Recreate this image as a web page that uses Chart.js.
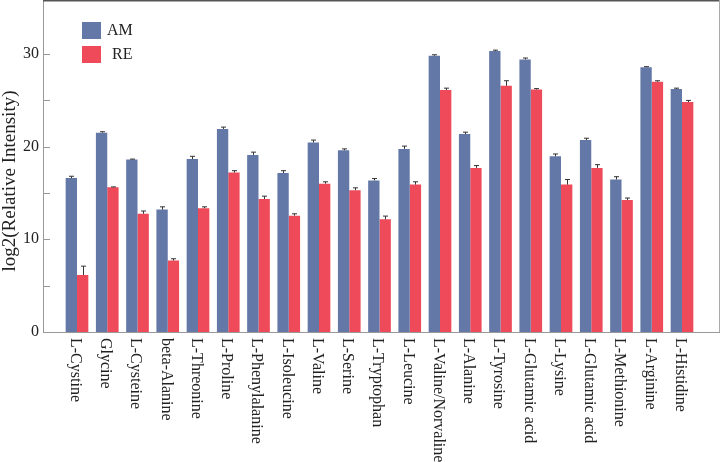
<!DOCTYPE html>
<html>
<head>
<meta charset="utf-8">
<script src="https://cdn.jsdelivr.net/npm/chart.js@4.4.1/dist/chart.umd.min.js"></script>
<style>
  html, body { margin: 0; padding: 0; background: #fff; }
  #wrap { width: 720px; height: 462px; position: relative; }
</style>
</head>
<body>
<div id="wrap"><canvas id="chart"></canvas></div>
<script>
// Categories and values (log2 relative intensity)
const labels = ['L-Cystine', 'Glycine', 'L-Cysteine', 'beta-Alanine', 'L-Threonine', 'L-Proline',
    'L-Phenylalanine', 'L-Isoleucine', 'L-Valine', 'L-Serine', 'L-Tryptophan', 'L-Leucine',
    'L-Valine/Norvaline', 'L-Alanine', 'L-Tyrosine', 'L-Glutamic acid', 'L-Lysine',
    'L-Glutamic acid', 'L-Methionine', 'L-Arginine', 'L-Histidine'];
const amValues = [16.6, 21.5, 18.6, 13.2, 18.65, 21.9, 19.1, 17.15, 20.45, 19.6, 16.35, 19.75,
    29.8, 21.35, 30.3, 29.4, 18.95, 20.7, 16.45, 28.55, 26.2];
const amErrors = [0.2, 0.1, 0.05, 0.3, 0.3, 0.2, 0.3, 0.25, 0.25, 0.15, 0.2, 0.3,
    0.1, 0.2, 0.1, 0.15, 0.25, 0.2, 0.3, 0.07, 0.1];
const reValues = [6.15, 15.6, 12.75, 7.7, 13.35, 17.2, 14.35, 12.55, 16.0, 15.3, 12.15, 15.9,
    26.1, 17.7, 26.55, 26.15, 15.9, 17.7, 14.25, 27.0, 24.8];
const reErrors = [0.95, 0.05, 0.3, 0.2, 0.15, 0.2, 0.3, 0.2, 0.2, 0.25, 0.35, 0.3,
    0.2, 0.25, 0.55, 0.1, 0.55, 0.35, 0.2, 0.1, 0.18];
const yTickValues = [0, 5, 10, 15, 20, 25, 30];
const yTitle = 'log2(Relative Intensity)';

const FONT = "'Liberation Serif', 'Times New Roman', serif";
const AM_COLOR = '#6478a8';
const RE_COLOR = '#ee4a5a';

// Error bars (upper whisker + cap) drawn through the y scale
const errorBars = {
    id: 'errorBars',
    afterDatasetsDraw(chart) {
        const ctx = chart.ctx;
        const yScale = chart.scales.y;
        ctx.save();
        ctx.strokeStyle = '#333';
        ctx.lineWidth = 1;
        chart.data.datasets.forEach((ds, di) => {
            const meta = chart.getDatasetMeta(di);
            meta.data.forEach((bar, i) => {
                const top = yScale.getPixelForValue(ds.data[i].y + ds.errors[i]);
                const x = Math.round(bar.x) + 0.5;
                ctx.beginPath();
                ctx.moveTo(x, bar.y);
                ctx.lineTo(x, top);
                ctx.moveTo(x - 2.5, top);
                ctx.lineTo(x + 2.5, top);
                ctx.stroke();
            });
        });
        ctx.restore();
    }
};

// Frame, inward y ticks, rotated x labels, y title and legend
const decorations = {
    id: 'decorations',
    afterDraw(chart) {
        const ctx = chart.ctx;
        const area = chart.chartArea;
        const xScale = chart.scales.x;
        const yScale = chart.scales.y;
        ctx.save();

        // top and right frame
        ctx.strokeStyle = '#555';
        ctx.lineWidth = 2;
        ctx.beginPath();
        ctx.moveTo(area.left, 0.5);
        ctx.lineTo(area.right + 1, 0.5);
        ctx.stroke();
        ctx.strokeStyle = '#aaa';
        ctx.lineWidth = 1;
        ctx.beginPath();
        ctx.moveTo(area.right + 0.5, 0);
        ctx.lineTo(area.right + 0.5, area.bottom);
        ctx.stroke();

        // y ticks pointing into the plot
        ctx.strokeStyle = '#999';
        yTickValues.forEach(v => {
            const y = Math.round(yScale.getPixelForValue(v)) + 0.5;
            ctx.beginPath();
            ctx.moveTo(area.left, y);
            ctx.lineTo(area.left + 7, y);
            ctx.stroke();
        });

        // x labels, reading top to bottom
        ctx.fillStyle = '#222';
        ctx.font = '16px ' + FONT;
        ctx.textAlign = 'left';
        ctx.textBaseline = 'middle';
        labels.forEach((lab, i) => {
            const x = xScale.getPixelForValue(i);
            ctx.save();
            ctx.translate(x - 2, area.bottom + 6);
            ctx.rotate(Math.PI / 2);
            ctx.fillText(lab, 0, 0);
            ctx.restore();
        });

        // y title
        ctx.save();
        ctx.font = '19px ' + FONT;
        ctx.textAlign = 'center';
        ctx.translate(10, 181);
        ctx.rotate(-Math.PI / 2);
        ctx.fillText(yTitle, 0, 0);
        ctx.restore();

        // legend
        ctx.font = '16px ' + FONT;
        ctx.textBaseline = 'middle';
        chart.data.datasets.forEach((ds, i) => {
            const top = 22 + i * 24;
            ctx.fillStyle = ds.backgroundColor;
            ctx.fillRect(82, top, 19, 17);
            ctx.fillStyle = '#222';
            ctx.fillText(ds.label, 107 + i * 5, top + 9);
        });
        ctx.restore();
    }
};

const ctx = document.getElementById('chart').getContext('2d');
new Chart(ctx, {
    type: 'bar',
    data: {
        datasets: [
            {
                label: 'AM',
                data: amValues.map((v, i) => ({ x: i, y: v })),
                errors: amErrors,
                backgroundColor: AM_COLOR,
                borderWidth: 0
            },
            {
                label: 'RE',
                data: reValues.map((v, i) => ({ x: i, y: v })),
                errors: reErrors,
                backgroundColor: RE_COLOR,
                borderWidth: 0
            }
        ]
    },
    options: {
        responsive: true,
        maintainAspectRatio: false,
        animation: false,
        layout: { padding: { top: 1, right: 1, left: 0, bottom: 0 } },
        datasets: { bar: { barPercentage: 1, categoryPercentage: 0.75 } },
        plugins: { legend: { display: false }, tooltip: { enabled: false } },
        scales: {
            x: {
                type: 'linear',
                offset: false,
                min: -1.124,
                max: 21.223,
                grid: { display: false },
                border: { color: '#999', width: 1 },
                ticks: { display: false },
                afterFit: s => { s.height = 130; s.paddingLeft = 0; s.paddingRight = 0; }
            },
            y: {
                min: 0,
                max: 35.7,
                grid: { display: false, drawTicks: false },
                border: { color: '#999', width: 1 },
                afterBuildTicks: s => { s.ticks = yTickValues.map(v => ({ value: v })); },
                ticks: {
                    padding: 4,
                    color: '#222',
                    font: { family: FONT, size: 16 },
                    callback: v => (v % 10 === 0 ? v : '')
                },
                afterFit: s => { s.width = 43; s.paddingTop = 0; s.paddingBottom = 0; }
            }
        }
    },
    plugins: [errorBars, decorations]
});
</script>
</body>
</html>
